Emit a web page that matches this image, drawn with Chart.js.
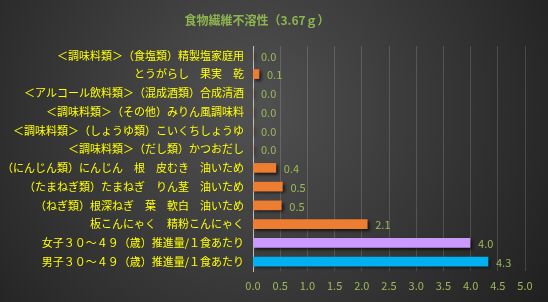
<!DOCTYPE html>
<html>
<head>
<meta charset="utf-8">
<script src="https://cdn.jsdelivr.net/npm/chart.js@4/dist/chart.umd.min.js"></script>
<style>
  html, body { margin: 0; padding: 0; background: #2b2b2b; }
  #wrap { width: 548px; height: 302px; }
</style>
</head>
<body>
<div id="wrap"><canvas id="chart" width="548" height="302"></canvas></div>
<script>
const titleText = '食物繊維不溶性（3.67ｇ）';

const categories = [
    '＜調味料類＞（食塩類）精製塩家庭用',
    'とうがらし　果実　乾',
    '＜アルコール飲料類＞（混成酒類）合成清酒',
    '＜調味料類＞（その他）みりん風調味料',
    '＜調味料類＞（しょうゆ類）こいくちしょうゆ',
    '＜調味料類＞（だし類）かつおだし',
    '（にんじん類）にんじん　根　皮むき　油いため',
    '（たまねぎ類）たまねぎ　りん茎　油いため',
    '（ねぎ類）根深ねぎ　葉　軟白　油いため',
    '板こんにゃく　精粉こんにゃく',
    '女子３０～４９（歳）推進量/１食あたり',
    '男子３０～４９（歳）推進量/１食あたり'
];
const values = [0, 0.11, 0, 0, 0, 0, 0.42, 0.54, 0.52, 2.1, 3.99, 4.32];
const barColors = [
    '#ED7D31', '#ED7D31', '#ED7D31', '#ED7D31', '#ED7D31', '#ED7D31',
    '#ED7D31', '#ED7D31', '#ED7D31', '#ED7D31', '#CC99FF', '#00B0F0'
];
const xTicks = [0, 0.5, 1, 1.5, 2, 2.5, 3, 3.5, 4, 4.5, 5];

const fontFamily = '"Noto Sans CJK JP", "Noto Sans", sans-serif';

// background + title
const backdrop = {
    id: 'backdrop',
    beforeDraw(chart) {
        const c = chart.ctx;
        const g = c.createRadialGradient(250, 110, 10, 250, 110, 380);
        g.addColorStop(0, '#505050');
        g.addColorStop(1, '#1c1c1c');
        c.save();
        c.fillStyle = g;
        c.fillRect(0, 0, chart.width, chart.height);
        c.fillStyle = '#8DB54F';
        c.font = 'bold 12px ' + fontFamily;
        c.textAlign = 'center';
        c.textBaseline = 'middle';
        c.fillText(titleText, 257, 20);
        c.restore();
    }
};

// shadow under bars
const barShadow = {
    id: 'barShadow',
    beforeDatasetDraw(chart) {
        const c = chart.ctx;
        c.save();
        c.shadowColor = 'rgba(0,0,0,0.65)';
        c.shadowBlur = 3;
        c.shadowOffsetX = 2;
        c.shadowOffsetY = 2;
    },
    afterDatasetDraw(chart) {
        chart.ctx.restore();
    }
};

// value labels at bar end
const valueLabels = {
    id: 'valueLabels',
    afterDatasetsDraw(chart) {
        const c = chart.ctx;
        const meta = chart.getDatasetMeta(0);
        c.save();
        c.fillStyle = '#9BBB59';
        c.font = '11px ' + fontFamily;
        c.textAlign = 'left';
        c.textBaseline = 'middle';
        meta.data.forEach((bar, i) => {
            c.fillText(values[i].toFixed(1), bar.x + 8, bar.y + 1);
        });
        c.restore();
    }
};

const ctx = document.getElementById('chart').getContext('2d');
const chart = new Chart(ctx, {
    type: 'bar',
    data: {
        labels: categories,
        datasets: [{
            data: values,
            backgroundColor: barColors,
            borderWidth: 0,
            barThickness: 9
        }]
    },
    options: {
        indexAxis: 'y',
        responsive: false,
        animation: false,
        layout: { padding: { top: 46, right: 23, bottom: 9, left: 0 } },
        plugins: {
            legend: { display: false },
            title: { display: false },
            tooltip: { enabled: false }
        },
        scales: {
            x: {
                min: 0,
                max: 5,
                afterBuildTicks: (scale) => {
                    scale.ticks = xTicks.map(v => ({ value: v }));
                },
                afterFit: (scale) => { scale.height = 22; },
                grid: {
                    color: 'rgba(255,255,255,0.15)',
                    drawTicks: false
                },
                border: { display: false },
                ticks: {
                    color: '#9BBB59',
                    font: { family: fontFamily, size: 11 },
                    padding: 8,
                    callback: (v) => Number(v).toFixed(1)
                }
            },
            y: {
                afterFit: (scale) => { scale.width = 253; },
                grid: { display: false, drawTicks: false },
                border: { display: true, color: '#bfbfbf', width: 1 },
                ticks: {
                    color: '#FFFF00',
                    font: { family: fontFamily, size: 11 },
                    padding: 9
                }
            }
        }
    },
    plugins: [backdrop, barShadow, valueLabels]
});
</script>
</body>
</html>
